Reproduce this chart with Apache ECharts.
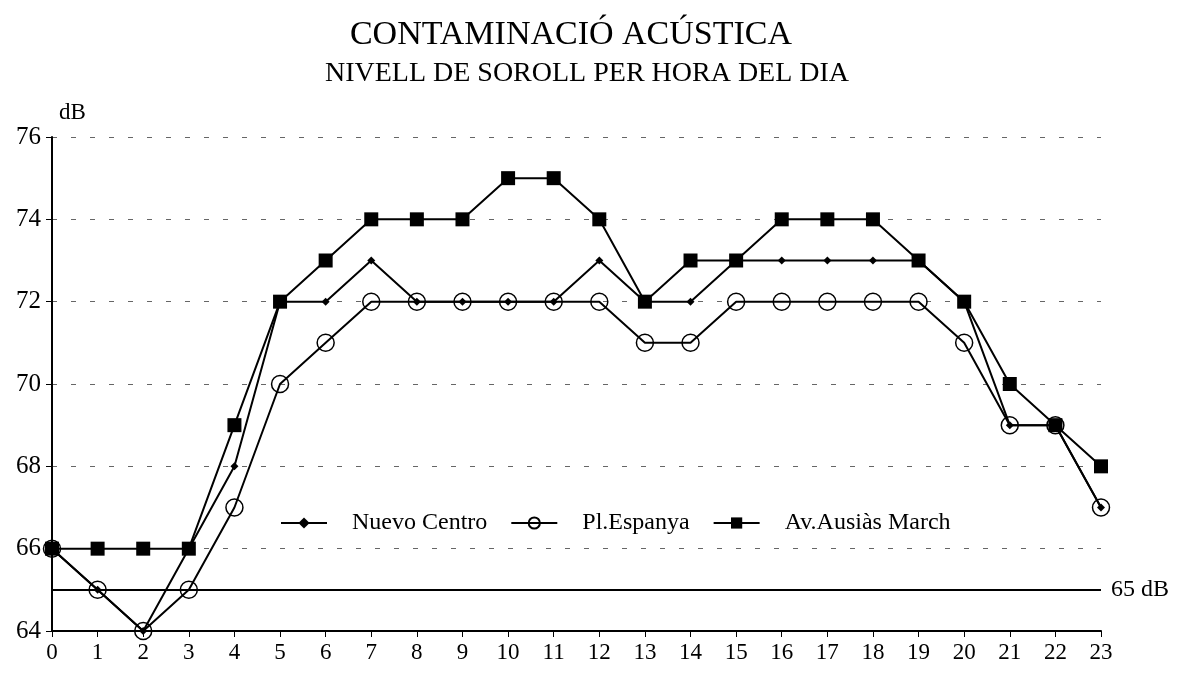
<!DOCTYPE html>
<html lang="ca">
<head>
    <meta charset="UTF-8">
    <title>Contaminació acústica</title>
    <script src="https://cdn.jsdelivr.net/npm/echarts@6/dist/echarts.min.js"></script>
    <style>
        body { margin: 0; background: #fff; }
        #main { width: 1179px; height: 673px; }
    </style>
</head>
<body>
    <div id="main"></div>
    <script type="text/javascript">
        // hores del dia
        var hores = [];
        for (var h = 0; h < 24; h++) hores.push(String(h));

        var nuevoCentro = [66, 65, 64, 66, 68, 72, 72, 73, 72, 72, 72, 72, 73, 72, 72, 73, 73, 73, 73, 73, 72, 69, 69, 67];
        var plEspanya   = [66, 65, 64, 65, 67, 70, 71, 72, 72, 72, 72, 72, 72, 71, 71, 72, 72, 72, 72, 72, 71, 69, 69, 67];
        var ausiasMarch = [66, 66, 66, 66, 69, 72, 73, 74, 74, 74, 75, 75, 74, 72, 73, 73, 74, 74, 74, 73, 72, 70, 69, 68];
        var limit = 65;

        var font = 'Liberation Serif';
        var myChart = echarts.init(document.getElementById('main'));

        var option = {
            backgroundColor: '#fff',
            animation: false,
            title: [{
                text: 'CONTAMINACIÓ ACÚSTICA',
                left: 566,
                textAlign: 'center',
                top: 13,
                textStyle: { fontFamily: font, fontSize: 34, fontWeight: 'normal', color: '#000' }
            }, {
                text: 'NIVELL DE SOROLL PER HORA DEL DIA',
                left: 582,
                textAlign: 'center',
                top: 55,
                textStyle: { fontFamily: font, fontSize: 28, fontWeight: 'normal', color: '#000' }
            }],
            legend: {
                left: 275,
                top: 506,
                itemWidth: 46,
                itemHeight: 14,
                itemGap: 23,
                textStyle: { fontFamily: font, fontSize: 24, color: '#000', padding: [0, 0, 0, 20] },
                data: ['Nuevo Centro', 'Pl.Espanya', 'Av.Ausiàs March']
            },
            grid: { left: 52, right: 78, top: 137, bottom: 42 },
            xAxis: {
                type: 'category',
                data: hores,
                boundaryGap: false,
                axisLine: { lineStyle: { color: '#000', width: 2 } },
                axisTick: { length: 6, lineStyle: { color: '#000' } },
                axisLabel: { fontFamily: font, fontSize: 23, color: '#000', margin: 10 }
            },
            yAxis: {
                type: 'value',
                min: 64,
                max: 76,
                interval: 2,
                name: 'dB',
                nameGap: 13,
                nameTextStyle: { fontFamily: font, fontSize: 23, color: '#000', align: 'left', padding: [0, 0, 0, 7] },
                axisLine: { show: true, lineStyle: { color: '#000', width: 2 } },
                axisTick: { show: true, length: 6, lineStyle: { color: '#000' } },
                axisLabel: { fontFamily: font, fontSize: 25, color: '#000', margin: 11 },
                splitLine: { lineStyle: { color: '#666', type: [5, 14], width: 1 } }
            },
            series: [{
                name: 'Av.Ausiàs March',
                type: 'line',
                data: ausiasMarch,
                symbol: 'rect',
                symbolSize: 14,
                itemStyle: { color: '#000' },
                lineStyle: { color: '#000', width: 2 },
                z: 2
            }, {
                name: 'Nuevo Centro',
                type: 'line',
                data: nuevoCentro,
                symbol: 'diamond',
                symbolSize: 8,
                itemStyle: { color: '#000' },
                lineStyle: { color: '#000', width: 2 },
                z: 3,
                markLine: {
                    silent: true,
                    symbol: 'none',
                    lineStyle: { color: '#000', type: 'solid', width: 2 },
                    label: { position: 'end', formatter: '65 dB', fontFamily: font, fontSize: 24, color: '#000', distance: 10 },
                    data: [{ yAxis: limit }]
                }
            }, {
                name: 'Pl.Espanya',
                type: 'line',
                data: plEspanya,
                symbol: 'circle',
                symbolSize: 17,
                itemStyle: { color: 'rgba(0,0,0,0)', borderColor: '#000', borderWidth: 1.5 },
                lineStyle: { color: '#000', width: 2 },
                z: 4
            }]
        };
        myChart.setOption(option);
    </script>
</body>
</html>
